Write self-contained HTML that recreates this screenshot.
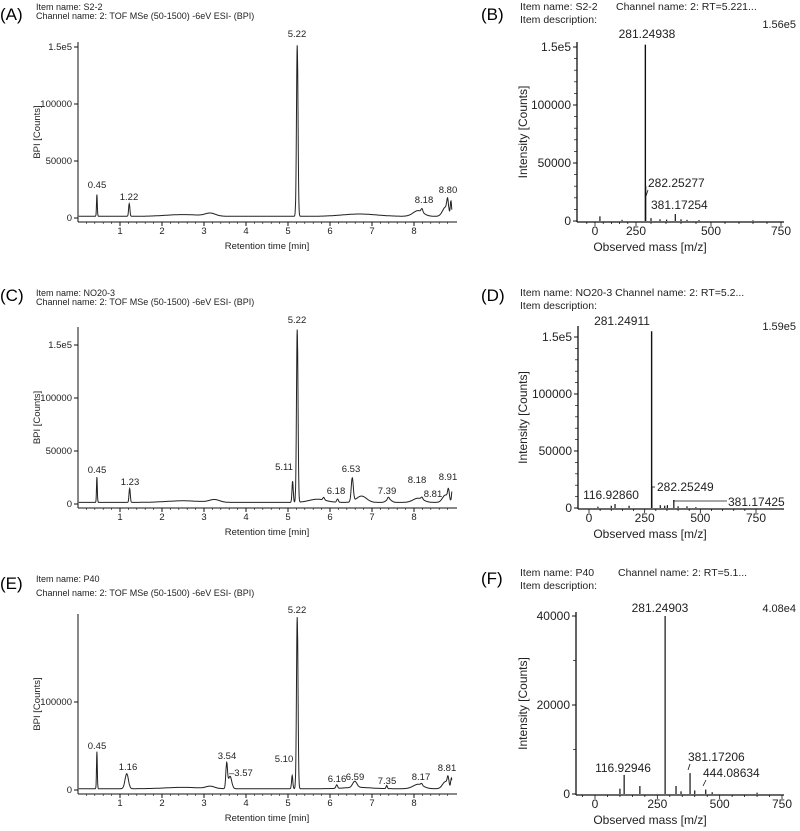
<!DOCTYPE html>
<html><head><meta charset="utf-8"><style>
html,body{margin:0;padding:0;background:#fff;}
svg{display:block;font-family:"Liberation Sans",sans-serif;}
</style></head><body>
<svg id="s" width="800" height="831" viewBox="0 0 800 831" xmlns="http://www.w3.org/2000/svg">
<g font-size="17" fill="#000">
<text x="0" y="20">(A)</text><text x="481" y="20">(B)</text>
<text x="0" y="301">(C)</text><text x="481" y="301">(D)</text>
<text x="0" y="589">(E)</text><text x="481" y="584">(F)</text>
</g>
<g font-size="9" fill="#222">
<text x="36" y="10">Item name: S2-2</text>
<text x="36" y="19">Channel name: 2: TOF MSe (50-1500) -6eV ESI- (BPI)</text>
<text x="36" y="296">Item name: NO20-3</text>
<text x="36" y="305">Channel name: 2: TOF MSe (50-1500) -6eV ESI- (BPI)</text>
<text x="36" y="582">Item name: P40</text>
<text x="36" y="596">Channel name: 2: TOF MSe (50-1500) -6eV ESI- (BPI)</text>
</g>
<g font-size="10.5" fill="#222">
<text x="520" y="10">Item name: S2-2</text><text x="616" y="10">Channel name: 2: RT=5.221...</text>
<text x="520" y="23">Item description:</text>
<text x="520" y="296">Item name: NO20-3  Channel name: 2: RT=5.2...</text>
<text x="520" y="309">Item description:</text>
<text x="520" y="576">Item name: P40</text><text x="618" y="576">Channel name: 2: RT=5.1...</text>
<text x="520" y="589">Item description:</text>
</g>
<g id="plots"></g>
</svg>
<script>
var NS="http://www.w3.org/2000/svg",G=document.getElementById("plots"),H="";
function T(x,y,s,o){o=o||{};H+='<text x="'+x+'" y="'+y+'" font-size="'+(o.fs||9)+'" text-anchor="'+(o.a||"middle")+'"'+(o.r?' transform="rotate(-90 '+x+' '+y+')"':'')+' fill="#222">'+s+'</text>';}
function L(x1,y1,x2,y2,w){H+='<line x1="'+x1+'" y1="'+y1+'" x2="'+x2+'" y2="'+y2+'" stroke="#111" stroke-width="'+(w||1)+'"/>';}
function chrom(c){
 var x0=78,k=42,ax=c.z+4;
 var X=function(t){return x0+k*t;},Y=function(v){return c.z-v*c.s;};
 var d="";
 for(var t=0.02;t<=8.9;t+=0.005){
  var v=c.base(t);
  c.p.forEach(function(p){v+=p[1]*Math.exp(-Math.pow((t-p[0])/p[2],2)/2);});
  d+=(d?"L":"M")+X(t).toFixed(1)+" "+Y(v).toFixed(1);
 }
 H+='<path d="'+d+'" fill="none" stroke="#222" stroke-width="1"/>';
 L(x0,c.top,x0,ax);L(x0,ax,457,ax);
 c.yt.forEach(function(q){L(x0-4,Y(q[0]),x0,Y(q[0]));T(x0-6,Y(q[0])+3,q[1],{a:"end",fs:9.5});});
 for(var t=0.2;t<8.9;t+=0.2){L(X(t),ax,X(t),ax+2,0.6);}
 for(var i=1;i<=8;i++){L(X(i),ax,X(i),ax+4);T(X(i),ax+12,i,{fs:9.5});}
 T(267,ax+27,"Retention time [min]",{fs:9.5});
 T(40,(c.top+ax)/2,"BPI [Counts]",{fs:9.5,r:1});
 c.lab.forEach(function(l){T(l[0],l[1],l[2],{fs:9.5,a:l[3]||"middle"});});
}
function bl(h){return function(t){var v=1500;h.forEach(function(q){v+=q[1]*Math.exp(-Math.pow((t-q[0])/q[2],2)/2);});return v;};}
chrom({z:218,s:57/50000,top:42,
 base:bl([[2.5,1500,0.4],[3.15,2500,0.12],[6.7,2000,0.4],[8.1,5000,0.12],[8.75,8000,0.07]]),
 p:[[0.45,19000,0.01],[1.22,11000,0.015],[5.22,150000,0.018],[8.19,3000,0.02],[8.80,10000,0.02],[8.88,12000,0.015]],
 yt:[[0,"0"],[50000,"50000"],[100000,"100000"],[150000,"1.5e5"]],
 lab:[[97,188,"0.45"],[129,200,"1.22"],[297,37,"5.22"],[424,203,"8.18"],[448,193,"8.80"]]});
chrom({z:504,s:53/50000,top:327,
 base:bl([[2.5,1500,0.4],[3.25,2500,0.12],[5.7,3000,0.2],[6.75,6000,0.12],[7.4,3000,0.06],[8.1,4000,0.12],[8.75,7000,0.07]]),
 p:[[0.45,24000,0.01],[1.23,13000,0.015],[5.11,20000,0.015],[5.22,163000,0.018],[5.85,2500,0.02],[6.18,3000,0.02],[6.53,22000,0.025],[7.39,2000,0.02],[8.19,2000,0.02],[8.82,9000,0.02],[8.91,12000,0.015]],
 yt:[[0,"0"],[50000,"50000"],[100000,"100000"],[150000,"1.5e5"]],
 lab:[[97,473,"0.45"],[130,485,"1.23"],[284,470,"5.11"],[297,323,"5.22"],[336,494,"6.18"],[351,472,"6.53"],[387,494,"7.39"],[417,483,"8.18"],[433,497,"8.81"],[448,480,"8.91"]]});
chrom({z:790,s:88/100000,top:614,
 base:bl([[2.5,1500,0.4],[3.15,2500,0.1],[6.65,1500,0.3],[8.1,5000,0.12],[8.75,8000,0.07]]),
 p:[[0.45,42000,0.01],[1.16,17000,0.04],[3.54,28000,0.02],[3.62,14000,0.04],[5.10,15000,0.015],[5.22,195000,0.018],[6.16,4000,0.02],[6.59,7000,0.05],[7.35,3500,0.015],[8.18,2000,0.02],[8.81,9000,0.02],[8.89,11000,0.015]],
 yt:[[0,"0"],[100000,"100000"]],
 lab:[[97,749,"0.45"],[128,770,"1.16"],[227,759,"3.54"],[229,776,"–3.57",'start'],[284,762,"5.10"],[297,613,"5.22"],[337,782,"6.16"],[355,780,"6.59"],[387,784,"7.35"],[421,780,"8.17"],[447,771,"8.81"]]});

function spec(c){
 var x0=c.ax,ax=c.z+1;
 var Y=function(v){return c.z-v*c.s;};
 var M=function(m){var k=c.xm;for(var i=0;i<k.length-1;i++){if(m<=k[i+1][0]||i==k.length-2){return k[i][1]+(m-k[i][0])*(k[i+1][1]-k[i][1])/(k[i+1][0]-k[i][0]);}}};
 c.st.forEach(function(p){L(M(p[0]),c.z,M(p[0]),Y(p[1]),p[1]>50000?1.4:1.2);});
 L(x0,c.top,x0,ax,1.3);L(x0,ax,784,ax,1.3);
 c.yt.forEach(function(q){L(x0-4,Y(q[0]),x0,Y(q[0]));T(x0-6,Y(q[0])+4,q[1],{a:"end",fs:12});});
 c.ym.forEach(function(v){L(x0-3,Y(v),x0,Y(v),0.7);});
 for(var m=-50;m<=775;m+=50){var xx=M(m);if(xx>x0+2&&xx<784)L(xx,ax,xx,ax+(m%250==0?4:2),0.8);}
 [0,250,500,750].forEach(function(m){T(c.tl[m]||M(m),ax+13,m,{fs:12});});
 T(650,ax+29,"Observed mass [m/z]",{fs:12});
 T(527,(c.top+ax)/2,"Intensity [Counts]",{fs:12,r:1});
 T(796,c.my,c.mx,{fs:11,a:"end"});
 c.lab.forEach(function(l){T(l[0],l[1],l[2],{fs:12,a:l[3]||"middle"});});
 (c.extra||[]).forEach(function(e){L(e[0],e[1],e[2],e[3],0.8);});
}
spec({ax:577,z:221,s:58/50000,top:42,xm:[[0,595],[250,636],[500,711],[750,781]],tl:{},
 st:[[30,4000],[165,1000],[281.2,152000],[282.3,30000],[300,2500],[330,1500],[352,1200],[381,6000],[400,1500],[420,1000],[460,800],[650,600]],
 yt:[[0,"0"],[50000,"50000"],[100000,"100000"],[150000,"1.5e5"]],ym:[10000,20000,30000,40000,60000,70000,80000,90000,110000,120000,130000,140000],
 my:28,mx:"1.56e5",
 lab:[[647,38,"281.24938"],[648,187,"282.25277","start"],[651,209,"381.17254","start"]],
 extra:[[648,190,646,196]]});
spec({ax:578,z:508,s:57/50000,top:326,xm:[[0,589],[750,756]],tl:{},
 st:[[40,1200],[100,2000],[116.9,3500],[180,2000],[281.2,155000],[282.3,18000],[320,2500],[340,2000],[352,2500],[381,7000],[400,1500],[440,1500],[480,800]],
 yt:[[0,"0"],[50000,"50000"],[100000,"100000"],[150000,"1.5e5"]],ym:[10000,20000,30000,40000,60000,70000,80000,90000,110000,120000,130000,140000],
 my:330,mx:"1.59e5",
 lab:[[622,325,"281.24911"],[611,499,"116.92860"],[657,491,"282.25249","start"],[728,506,"381.17425","start"]],
 extra:[[652,487,655,487],[673,501,727,501]]});
spec({ax:576,z:794,s:178/40000,top:612,xm:[[0,595],[750,782]],tl:{},
 st:[[100,1200],[116.9,4300],[180,1800],[281.2,40000],[325,1800],[345,600],[381.2,4700],[400,800],[444.1,1000],[470,400],[650,300]],
 yt:[[0,"0"],[20000,"20000"],[40000,"40000"]],ym:[10000,30000],
 my:612,mx:"4.08e4",
 lab:[[660,612,"281.24903"],[623,772,"116.92946"],[688,761,"381.17206","start"],[703,777,"444.08634","start"]],
 extra:[[690,764,688,770],[706,780,703,786]]});
G.innerHTML=H;
</script>
</body></html>
